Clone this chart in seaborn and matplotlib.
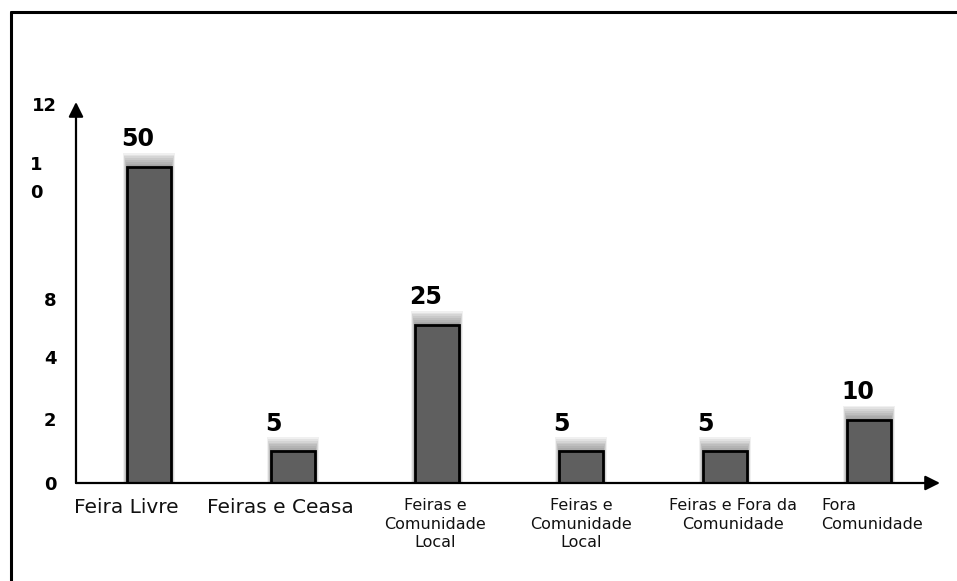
import matplotlib
matplotlib.use("Agg")
import matplotlib.pyplot as plt
from matplotlib.lines import Line2D
from matplotlib.transforms import ScaledTranslation
import seaborn as sns
import pandas as pd

# data
categories = ["Feira Livre", "Feiras e Ceasa", "Feiras e\nComunidade\nLocal",
              "Feiras e\nComunidade\nLocal", "Feiras e Fora da\nComunidade",
              "Fora\nComunidade"]
values = [50, 5, 25, 5, 5, 10]
value_labels = ["50", "5", "25", "5", "5", "10"]
ytick_values = [0, 10.2, 20, 29.1, 49.2, 60]
ytick_labels = ["0", "2", "4", "8", "1\n0", "12"]

sns.set_theme(style="white")
plt.rcParams["font.family"] = ["DejaVu Sans"]

W, H = 957, 581
fig = plt.figure(figsize=(W / 100, H / 100), dpi=100)
ax = fig.add_axes([76 / W, (H - 483) / H, (940 - 76) / W, (483 - 102) / H])

df = pd.DataFrame({"key": [f"c{i}" for i in range(len(values))], "value": values})
bar_w = 0.31

# soft shadow above every bar
for k in range(8):
    ax.bar(range(len(values)), [v + 0.28 * (k + 1) for v in values],
           width=bar_w + 0.007 * k, color="#5a5a5a", alpha=0.09,
           linewidth=0, zorder=0.5)

sns.barplot(data=df, x="key", y="value", color="#5f5f5f", width=bar_w,
            saturation=1, edgecolor="black", linewidth=2, ax=ax, zorder=2)

for i, (v, lab) in enumerate(zip(values, value_labels)):
    ax.annotate(lab, xy=(i - bar_w / 2, v), xytext=(-4, 15),
                textcoords="offset points", ha="left", va="baseline",
                fontsize=17, fontweight="bold", color="black")

ax.set_xlim(-0.507, 5.493)
ax.set_ylim(0, 60.3)
ax.set_xlabel("")
ax.set_ylabel("")
for s in ax.spines.values():
    s.set_visible(False)

# axes drawn as arrows
ax.annotate("", xy=(0, 1), xytext=(0, 0), xycoords="axes fraction",
            arrowprops=dict(arrowstyle="-|>", lw=1.6, color="black",
                            mutation_scale=22, shrinkA=0, shrinkB=0))
ax.annotate("", xy=(1, 0), xytext=(0, 0), xycoords="axes fraction",
            arrowprops=dict(arrowstyle="-|>", lw=1.6, color="black",
                            mutation_scale=22, shrinkA=0, shrinkB=0))

ax.set_xticks(range(len(categories)))
ax.set_xticklabels(categories)
ax.tick_params(axis="x", length=0, pad=11)
x_shift = [-23, -13, -2, 0, 8, 3]
x_size = [14.5, 14.5, 11.5, 11.5, 11.5, 11.5]
for t, dx, fs in zip(ax.get_xticklabels(), x_shift, x_size):
    t.set_fontsize(fs)
    t.set_linespacing(1.3)
    t.set_color("#111111")
    t.set_transform(t.get_transform() + ScaledTranslation(dx / 100, 0, fig.dpi_scale_trans))
ax.get_xticklabels()[5].set_multialignment("left")

ax.set_yticks(ytick_values)
ax.set_yticklabels(ytick_labels)
ax.tick_params(axis="y", length=0, pad=14)
for t in ax.get_yticklabels():
    t.set_fontsize(13)
    t.set_fontweight("bold")
    t.set_color("black")
    t.set_linespacing(1.7)
    if "\n" in t.get_text():
        t.set_transform(t.get_transform() + ScaledTranslation(-14 / 100, 0, fig.dpi_scale_trans))

# frame lines on the left and top of the picture
fig.add_artist(Line2D([11 / W, 11 / W], [0, 1 - 12 / H], color="black", lw=2.2))
fig.add_artist(Line2D([11 / W, 1], [1 - 12 / H, 1 - 12 / H], color="black", lw=2.2))

fig.savefig("out.png", dpi=100, facecolor="white")
